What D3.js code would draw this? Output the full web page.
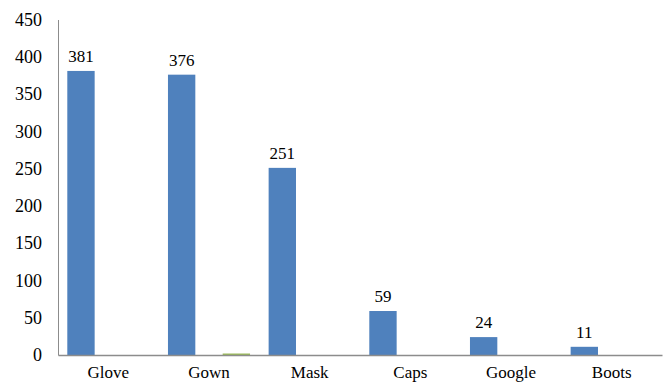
<!DOCTYPE html>
<html>
<head>
<meta charset="utf-8">
<script src="https://cdn.jsdelivr.net/npm/d3@7"></script>
<style>
  html, body { margin: 0; padding: 0; background: #fff; }
  svg { display: block; }
</style>
</head>
<body>
<svg id="chart" width="669" height="385"></svg>
<script>
const categories = ["Glove", "Gown", "Mask", "Caps", "Google", "Boots"];
const seriesNames = ["Series1", "Series2", "Series3"];
const series1 = [381, 376, 251, 59, 24, 11];
const series2 = [0, 0, 0, 0, 0, 0];
const series3 = [0, 2, 0, 0, 0, 0];
const seriesColors = ["#4F81BD", "#C0504D", "#9BBB59"];
const yTicks = [0, 50, 100, 150, 200, 250, 300, 350, 400, 450];

const FONT = '"Liberation Serif"';
const seriesValues = [series1, series2, series3];
const W = 669, H = 385;
const m = { left: 58, right: 7, top: 19.5, bottom: 30 };
const svg = d3.select("#chart");

const x0 = d3.scaleBand().domain(categories).range([m.left, W - m.right]).padding(0);
const inner = 9.3;
const x1 = d3.scaleBand().domain(seriesNames).range([inner, x0.bandwidth() - inner]).padding(0);
const y = d3.scaleLinear().domain([0, 450]).range([H - m.bottom, m.top]);

// y axis labels
const yAxis = d3.axisLeft(y).tickValues(yTicks).tickSize(0).tickPadding(16);
const gy = svg.append("g").attr("transform", `translate(${m.left},0)`).call(yAxis);
gy.select(".domain").attr("stroke", "#8c8c8c").attr("stroke-width", 1);
gy.selectAll("text").attr("fill", "#000").style("font-family", FONT).style("font-size", "18px");

// bars
categories.forEach((c, i) => {
  seriesNames.forEach((s, j) => {
    const v = seriesValues[j][i];
    if (v <= 0) return;
    svg.append("rect")
      .attr("x", x0(c) + x1(s))
      .attr("y", y(v))
      .attr("width", x1.bandwidth())
      .attr("height", y(0) - y(v))
      .attr("fill", seriesColors[j]);
  });
  const v = series1[i];
  svg.append("text")
    .attr("x", x0(c) + x1("Series1") + x1.bandwidth() / 2)
    .attr("y", y(v) - 9)
    .attr("text-anchor", "middle")
    .style("font-family", FONT)
    .style("font-size", "17px")
    .text(v);
});

// x axis
const xAxis = d3.axisBottom(x0).tickSize(0).tickPadding(11);
const gx = svg.append("g").attr("transform", `translate(0,${y(0)})`).call(xAxis);
gx.select(".domain").attr("stroke", "#8c8c8c").attr("stroke-width", 1.5);
gx.selectAll("text").attr("fill", "#000").style("font-family", FONT).style("font-size", "17px");
</script>
</body>
</html>
